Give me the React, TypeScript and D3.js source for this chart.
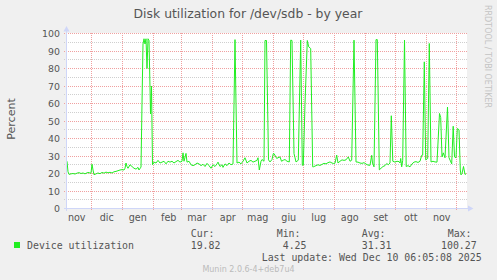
import React from "react";
import * as d3 from "d3";

// ---- data ----
const title = "Disk utilization for /dev/sdb - by year";
const yLabel = "Percent";
const seriesName = "Device utilization";
const monthNames = ["gen", "feb", "mar", "apr", "mag", "giu", "lug", "ago", "set", "ott", "nov", "dic"];
const yTicks = [0, 10, 20, 30, 40, 50, 60, 70, 80, 90, 100];
const yMinorTicks = [5, 15, 25, 35, 45, 55, 65, 75, 85, 95];
const statLabels = ["Cur:", "Min:", "Avg:", "Max:"];
const statValues = ["19.82", "4.25", "31.31", "100.27"];
const lastUpdate = "Last update: Wed Dec 10 06:05:08 2025";
const watermark = "Munin 2.0.6-4+deb7u4";
const sideText = "RRDTOOL / TOBI OETIKER";

// days since 2024-11-05 06:05:08 (graph start)
const dayOffsets = [
  1, 2, 3, 5, 7, 9, 11, 13, 15, 17, 19, 21, 23, 24, 25, 26, 27, 28, 30, 32, 34, 36, 38, 40, 42, 44, 46, 48, 50, 52,
  54, 56, 58, 59, 60, 61, 62, 64, 66, 68, 70, 72, 73, 74, 75, 76, 77, 78, 79, 80, 81, 82, 83, 84, 84.5, 85.5, 86.5,
  88, 90, 92, 94, 96, 98, 100, 102, 104, 106, 108, 110, 112, 114, 116, 117, 118, 120, 121, 123, 125, 127, 129, 131,
  133, 135, 137, 139, 141, 143, 145, 147, 149, 151, 152, 154, 156, 157, 159, 161, 163, 165, 167, 168, 169, 170, 171,
  173, 175, 177, 179, 181, 183, 185, 187, 189, 191, 192, 193.3, 195, 196, 198, 199, 200.5, 202.5, 204, 206, 207.3,
  208, 210.7, 212, 214, 215.5, 217.3, 219, 221, 223.3, 224.7, 226, 228, 229, 230, 232.3, 234.7, 236.3, 237.3, 239,
  241.3, 242.7, 244.7, 246.7, 247.3, 250, 252, 254, 256, 258, 260, 262, 264, 266, 267.3, 269, 270.7, 272, 274, 276,
  278, 280, 282.3, 284, 285.7, 288, 290, 292, 294, 296, 298, 300, 302, 304, 305.7, 306.5, 308, 309, 310, 311.3,
  313.3, 315, 317, 319, 320.7, 322.3, 324, 325.3, 326.8, 329, 331, 333, 334, 334.7, 335.7, 336.7, 338.5, 340.2, 342,
  344, 346, 348, 350, 352, 354, 355.7, 356.7, 358.3, 359.7, 361.7, 363.3, 365, 367, 369, 371, 373.5, 374.7, 376,
  377.3, 379, 381.5, 383, 385.7, 387.2, 388.5, 390, 391.3, 393, 394.3, 395, 396, 397.5, 399, 400
];
const utilization = [
  27, 21, 19.5, 19.8, 20, 19.7, 20.2, 20.5, 20, 20.3, 19.8, 20.4, 20.6, 20.1, 20.3, 25.3, 22, 19.3, 19.8, 20.3, 19.9,
  20.6, 20.2, 20.8, 20.4, 20.7, 20.3, 21, 21.2, 21.6, 22, 22.2, 22, 23, 26, 24, 23, 25, 24, 23, 22.5, 23.5, 22, 23,
  23.5, 60, 94, 97, 94, 97, 80, 97, 96, 69, 54, 70, 25, 26.5, 26, 27.5, 26, 26.5, 27, 25.5, 27, 26.5, 27, 26, 26.8,
  27.5, 26.5, 27, 31.8, 27, 31.5, 26.5, 27, 25, 24.5, 25, 26, 25.5, 24.5, 25.3, 24, 25.8, 24.5, 23, 25, 24, 25.5, 26.5,
  24, 25, 23.5, 25.5, 24.5, 26, 25, 25.5, 60, 96.5, 60, 26, 26.5, 25.5, 27, 29, 26, 27, 27.5, 26.5, 27, 27.5, 29, 22,
  27, 28, 27, 96, 96, 27.8, 26.6, 28, 31.4, 31.4, 28.6, 29, 29.5, 27, 27.6, 28, 27, 26.6, 96.2, 96, 31.4, 29, 26.6,
  27.6, 96.2, 24.7, 24.8, 60, 96, 92.4, 91.4, 23.8, 23.8, 24.5, 25, 24.6, 25.2, 25.8, 25.5, 26.2, 26.6, 26, 25.7,
  25.9, 30.5, 26, 27, 27.8, 27.5, 27.8, 29.5, 27, 27.6, 96.2, 26.6, 26.5, 26, 25.8, 26.2, 25.4, 24.8, 24.7, 30.4, 26,
  23.8, 60, 96.5, 96.5, 22.1, 23, 24, 24.5, 25.7, 25, 26, 53, 27, 26.5, 27, 26.8, 26, 28.6, 23.8, 27.5, 96.2, 24, 24.5,
  23.8, 25.5, 26.5, 26.8, 26.3, 27, 30.4, 30.5, 83.8, 27.8, 28.6, 94.3, 26.6, 27, 26.6, 26.5, 54.3, 52, 29.5, 31.8, 29,
  58, 29, 25.5, 47, 29.5, 29, 45.7, 45, 22, 19.2, 20, 24, 19.5, 19.8, 19.8
];

const startDate = new Date(Date.UTC(2024, 10, 5, 6, 5, 8));
const endDate = new Date(Date.UTC(2025, 11, 10, 6, 5, 8));

const W = 497;
const H = 280;
const SANS = "'DejaVu Sans', sans-serif";
const MONO = "'DejaVu Sans Mono', monospace";
const TXT = "#555555";
const AXIS = "#CFD6F8";
const MGRID = "#F0A0A0";
const GRID = "#CFCFCF";
const LINE = "#22EE22";

export default function App() {
  const x = d3.scaleUtc().domain([startDate, endDate]).range([66, 466]);
  const y = d3.scaleLinear().domain([0, 100]).range([208.5, 33.5]);
  const py = (v: number) => Math.round(y(v) - 0.5) + 0.5;
  const px = (d: Date) => Math.floor(x(d)) + 0.5;

  const monthStarts = d3.utcMonth.range(d3.utcMonth.ceil(startDate), endDate);
  const monthLabels = d3.utcMonth
    .range(d3.utcMonth.floor(startDate), endDate)
    .map((m) => ({ d: d3.utcDay.offset(m, 15), name: monthNames[m.getUTCMonth()] }))
    .filter((o) => o.d >= startDate && o.d <= endDate);

  const pts = dayOffsets.map((d, i) => [new Date(startDate.getTime() + d * 86400000), utilization[i]] as [Date, number]);
  const line = d3
    .line<[Date, number]>()
    .x((p) => x(p[0]))
    .y((p) => y(p[1]));

  const statX = [190.7, 276.7, 361.7, 447.7];
  const valX = [190.7, 282.7, 361.7, 441];

  return (
    <svg width={W} height={H} style={{ position: "absolute", left: 0, top: 0, display: "block" }}>
      <rect x={0} y={0} width={W} height={H} fill="#F0F0F0" />
      <rect x={66} y={33} width={401} height={176} fill="#FFFFFF" />
      <text x={248} y={18} textAnchor="middle" fontFamily={SANS} fontSize={12.4} fill={TXT}>
        {title}
      </text>
      <text
        transform={`translate(485,5) rotate(90)`}
        fontFamily={SANS}
        fontSize={8}
        fill="#C4C4C4"
      >
        {sideText}
      </text>
      <text
        transform={`translate(14.5,119) rotate(-90)`}
        textAnchor="middle"
        fontFamily={SANS}
        fontSize={11}
        fill={TXT}
      >
        {yLabel}
      </text>
      {/* minor horizontal grid */}
      {yMinorTicks.map((v) => (
        <line key={"mi" + v} x1={64} x2={467} y1={py(v)} y2={py(v)} stroke={GRID} strokeWidth={1} strokeDasharray="1,1" />
      ))}
      {/* major horizontal grid */}
      {yTicks.map((v) => (
        <line key={"ma" + v} x1={64} x2={467} y1={py(v)} y2={py(v)} stroke={MGRID} strokeWidth={1} strokeDasharray="1,1" />
      ))}
      {/* month grid */}
      {monthStarts.map((m, i) => (
        <line key={"mv" + i} x1={px(m)} x2={px(m)} y1={33} y2={211} stroke={MGRID} strokeWidth={1} strokeDasharray="1,1" />
      ))}
      {yTicks.map((v) => (
        <text key={"yl" + v} x={60} y={py(v) + 3.3} textAnchor="end" fontFamily={SANS} fontSize={9.4} fill={TXT}>
          {v}
        </text>
      ))}
      {monthLabels.map((o, i) => (
        <text key={"xl" + i} x={x(o.d)} y={221} textAnchor="middle" fontFamily={SANS} fontSize={9.6} fill={TXT}>
          {o.name}
        </text>
      ))}
      <path d={line(pts) || ""} fill="none" stroke={LINE} strokeWidth={1} />
      {/* axes */}
      <line x1={64} x2={469} y1={208.5} y2={208.5} stroke={AXIS} strokeWidth={1} />
      <line x1={66.5} x2={66.5} y1={211} y2={29} stroke={AXIS} strokeWidth={1} />
      <path d="M468,205.5 L473.5,208.5 L468,211.5 Z" fill={AXIS} />
      <path d="M63.5,31.5 L66.5,26 L69.5,31.5 Z" fill={AXIS} />
      {/* legend */}
      <rect x={14} y={242} width={6} height={6} fill={LINE} />
      <text x={27} y={249} fontFamily={MONO} fontSize={9.9} fill={TXT}>
        {seriesName}
      </text>
      {statLabels.map((s, i) => (
        <text key={"sl" + i} x={statX[i]} y={236.7} fontFamily={MONO} fontSize={9.9} fill={TXT}>
          {s}
        </text>
      ))}
      {statValues.map((s, i) => (
        <text key={"sv" + i} x={valX[i]} y={249} fontFamily={MONO} fontSize={9.9} fill={TXT}>
          {s}
        </text>
      ))}
      <text x={261.7} y={261.3} fontFamily={MONO} fontSize={9.9} fill={TXT}>
        {lastUpdate}
      </text>
      <text x={248.5} y={272.3} textAnchor="middle" fontFamily={SANS} fontSize={8} fill="#BBBBBB">
        {watermark}
      </text>
    </svg>
  );
}
